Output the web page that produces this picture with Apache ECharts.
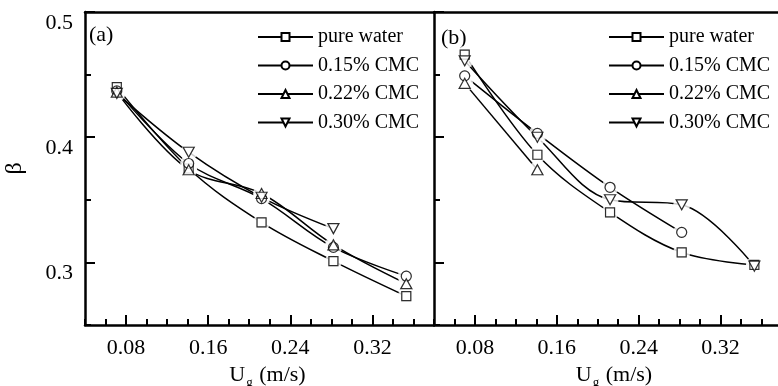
<!DOCTYPE html>
<html><head><meta charset="utf-8">
<script src="https://cdn.jsdelivr.net/npm/echarts@6/dist/echarts.min.js"></script>
<style>html,body{margin:0;padding:0;background:#fff}#c{width:778px;height:386px}</style>
</head><body><div id="c"></div>
<script>
const seriesNames = ['pure water', '0.15% CMC', '0.22% CMC', '0.30% CMC'];
const ugA = [0.071, 0.141, 0.212, 0.282, 0.353];
const waterA = [0.440, 0.375, 0.332, 0.301, 0.273];
const cmc015A = [0.437, 0.379, 0.351, 0.312, 0.289];
const cmc022A = [0.436, 0.374, 0.355, 0.314, 0.283];
const cmc030A = [0.435, 0.388, 0.352, 0.327];
const ugB = [0.070, 0.141, 0.212, 0.282, 0.353];
const waterB = [0.466, 0.386, 0.340, 0.308, 0.298];
const cmc015B = [0.449, 0.403, 0.360, 0.324];
const cmc022B = [0.443, 0.374];
const cmc030B = [0.461, 0.400, 0.350, 0.346, 0.297];
const xTicks = [0.08, 0.16, 0.24, 0.32];
const yTicks = [0.3, 0.4, 0.5];
const panelLabels = ['(a)', '(b)'];

const FONT = 'Liberation Serif';
const symbols = ['rect', 'circle', 'triangle', 'path://M0,0L10,0L5,8.66Z'];
const symSizes = [9, 10, [11, 10], [11, 10]];

const grids = [
  {left: 85, top: 12, width: 349, height: 313, outerBoundsMode: 'none', containLabel: false},
  {left: 434, top: 12, width: 348, height: 313, outerBoundsMode: 'none', containLabel: false}
];
const xAxes = [], yAxes = [], series = [];
const xName = '{a|U}{b|g}{a| (m/s)}';
const xNameRich = {a: {fontFamily: FONT, fontSize: 22, color: '#000'}, b: {fontFamily: FONT, fontSize: 13, color: '#000', padding: [15, 1, 0, 1]}};

[0, 1].forEach(g => {
  xAxes.push({
    type: 'value', gridIndex: g, min: 0.04, max: 0.38, position: 'bottom',
    name: xName, nameLocation: 'middle', nameGap: 36,
    nameTextStyle: {rich: xNameRich, padding: [0, 0, 0, g === 0 ? 16 : 12]},
    axisLine: {onZero: false, lineStyle: {color: '#000', width: 2.5}},
    axisTick: {inside: true, length: 10, customValues: xTicks, lineStyle: {color: '#000', width: 2}},
    axisLabel: {customValues: xTicks, formatter: v => v.toFixed(2), fontFamily: FONT, fontSize: 22, color: '#000', margin: 12},
    splitLine: {show: false}
  });
  xAxes.push({
    type: 'value', gridIndex: g, min: 0.04, max: 0.38, interval: 0.02, position: 'bottom',
    axisLine: {show: false, onZero: false},
    axisTick: {inside: true, length: 6, lineStyle: {color: '#000', width: 2}},
    axisLabel: {show: false}, splitLine: {show: false}
  });
  xAxes.push({
    type: 'value', gridIndex: g, min: 0.04, max: 0.38, position: 'top',
    axisLine: {onZero: false, lineStyle: {color: '#000', width: 2.5}},
    axisTick: {show: false}, axisLabel: {show: false}, splitLine: {show: false}
  });
  yAxes.push({
    type: 'value', gridIndex: g, min: 0.25, max: 0.5, position: 'left',
    name: g === 0 ? 'β' : '', nameLocation: 'middle', nameGap: 58,
    nameTextStyle: {fontFamily: FONT, fontSize: 24, color: '#000'},
    axisLine: {onZero: false, lineStyle: {color: '#000', width: 2.5}},
    axisTick: {inside: true, length: 10, customValues: yTicks, lineStyle: {color: '#000', width: 2}},
    axisLabel: {show: g === 0, customValues: yTicks, formatter: v => v.toFixed(1), fontFamily: FONT, fontSize: 22, color: '#000', margin: 12, verticalAlign: 'top', lineHeight: 22},
    splitLine: {show: false}
  });
  yAxes.push({
    type: 'value', gridIndex: g, min: 0.25, max: 0.5, interval: 0.05, position: 'left',
    axisLine: {show: false, onZero: false},
    axisTick: {inside: true, length: 6, lineStyle: {color: '#000', width: 2}},
    axisLabel: {show: false}, splitLine: {show: false}
  });
});

function addPanel(g, xs, arrs) {
  arrs.forEach((ys, i) => {
    const data = ys.map((y, k) => [xs[k], y]);
    const common = {xAxisIndex: g * 3, yAxisIndex: g * 2, data: data, animation: false, silent: true};
    series.push(Object.assign({
      type: 'line', name: seriesNames[i], smooth: 0.35,
      symbol: symbols[i], symbolSize: symSizes[i],
      lineStyle: {color: '#000', width: 1.5},
      itemStyle: {color: '#fff', borderColor: '#000', borderWidth: 1.2}, z: 2
    }, common));
    series.push(Object.assign({
      type: 'scatter', name: 'halo' + g + i, symbol: 'circle', symbolSize: 17,
      itemStyle: {color: '#fff'}, z: 3
    }, common));
    series.push(Object.assign({
      type: 'scatter', name: 'mk' + g + i, symbol: symbols[i], symbolSize: symSizes[i],
      itemStyle: {color: '#fff', borderColor: '#000', borderWidth: 1.2}, z: 4
    }, common));
  });
}
addPanel(0, ugA, [waterA, cmc015A, cmc022A, cmc030A]);
addPanel(1, ugB, [waterB, cmc015B, cmc022B, cmc030B]);

const legendCommon = {
  orient: 'vertical', itemWidth: 55, itemHeight: 10, itemGap: 8.5, padding: 0,
  data: seriesNames, textStyle: {fontFamily: FONT, fontSize: 20, color: '#000'},
  selectedMode: false
};

const chart = echarts.init(document.getElementById('c'));
chart.setOption({
  backgroundColor: '#fff',
  animation: false,
  grid: grids,
  xAxis: xAxes,
  yAxis: yAxes,
  legend: [
    Object.assign({left: 257, top: 27}, legendCommon),
    Object.assign({left: 608, top: 27}, legendCommon)
  ],
  graphic: [
    {type: 'text', left: 89, top: 24, style: {text: panelLabels[0], font: '22px "Liberation Serif"', fill: '#000'}},
    {type: 'text', left: 441, top: 27, style: {text: panelLabels[1], font: '22px "Liberation Serif"', fill: '#000'}}
  ],
  series: series
});
</script>
</body></html>
